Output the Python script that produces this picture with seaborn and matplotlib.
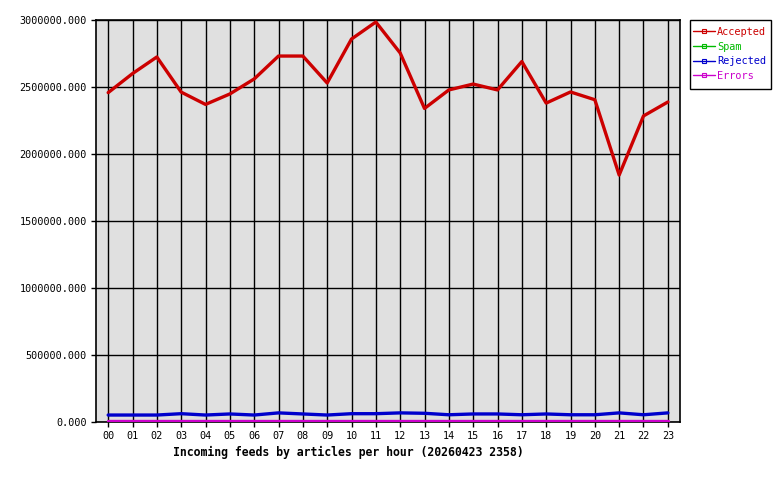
import matplotlib
matplotlib.use("Agg")
import matplotlib.pyplot as plt
import seaborn as sns
import pandas as pd
from matplotlib.lines import Line2D
from matplotlib.patches import Rectangle
from matplotlib.ticker import FuncFormatter, MultipleLocator

hours = ["00","01","02","03","04","05","06","07","08","09","10","11",
         "12","13","14","15","16","17","18","19","20","21","22","23"]
accepted = [2458000, 2600000, 2724000, 2462000, 2370000, 2448000, 2560000, 2731000,
            2731000, 2530000, 2858000, 2985000, 2754000, 2340000, 2478000, 2522000,
            2478000, 2690000, 2380000, 2463000, 2405000, 1843000, 2284000, 2388000]
spam = [0]*24
rejected = [52000, 52000, 52000, 62000, 52000, 60000, 52000, 68000, 60000, 52000,
            62000, 62000, 68000, 65000, 54000, 60000, 60000, 54000, 60000, 54000,
            54000, 68000, 54000, 68000]
errors = [5000]*24

series_names = ["Accepted", "Spam", "Rejected", "Errors"]
colors = ["#cc0000", "#00bb00", "#0000cc", "#cc00cc"]

rows = []
for name, vals in zip(series_names, [accepted, spam, rejected, errors]):
    for i, v in enumerate(vals):
        rows.append({"hour": i, "value": v, "series": name})
df = pd.DataFrame(rows)

sns.set_theme(style="white")
plt.rcParams['font.family'] = ['DejaVu Sans Mono', 'DejaVu Sans']

fig = plt.figure(figsize=(7.8, 4.8), dpi=100)
ax = fig.add_axes([96/780, 58/480, 584/780, 402/480])
ax.set_facecolor("#e0e0e0")

draw_order = ["Accepted", "Rejected", "Spam", "Errors"]
for name in draw_order:
    sub = df[df.series == name]
    sns.lineplot(data=sub, x="hour", y="value", ax=ax, color=colors[series_names.index(name)],
                 linewidth=2.4, legend=False, zorder=3)

ax.set_xlim(-0.5, 23.5)
ax.set_ylim(0, 3000000)
ax.set_xticks(range(24))
ax.set_xticklabels(hours)
ax.yaxis.set_major_locator(MultipleLocator(500000))
ax.yaxis.set_major_formatter(FuncFormatter(lambda v, p: f"{v:.3f}"))
ax.grid(True, color="black", linewidth=1.0, zorder=1)
ax.set_axisbelow(True)
for s in ax.spines.values():
    s.set_color("black")
    s.set_linewidth(1.2)
ax.tick_params(axis="both", direction="out", length=3.5, width=1, color="black",
               labelsize=7.3, labelcolor="black", bottom=True, left=True, pad=3)
ax.set_xlabel("")
ax.set_ylabel("")

# legend frame
fig.patches.append(Rectangle((690/780, 1 - 89/480), 81/780, 69/480, transform=fig.transFigure,
                             facecolor="white", edgecolor="black", linewidth=1.0))
handles = [Line2D([0], [0], color=c, linewidth=1.0, marker="s", markersize=2.5,
                  markerfacecolor="none", markeredgecolor=c, markeredgewidth=0.8) for c in colors]
leg = fig.legend(handles, series_names, loc="upper left", bbox_to_anchor=(693/780, 1 - 27/480),
                 frameon=False, fontsize=7.4, handlelength=2.1, handletextpad=0.25,
                 borderpad=0, labelspacing=0.45, borderaxespad=0)
for t, c in zip(leg.get_texts(), colors):
    t.set_color(c)

fig.text(348/780, 1 - 452/480, "Incoming feeds by articles per hour (20260423 2358)",
         ha="center", va="center", fontsize=8.3, fontweight="bold", color="black")

fig.savefig("out.png", dpi=100, facecolor="white")
